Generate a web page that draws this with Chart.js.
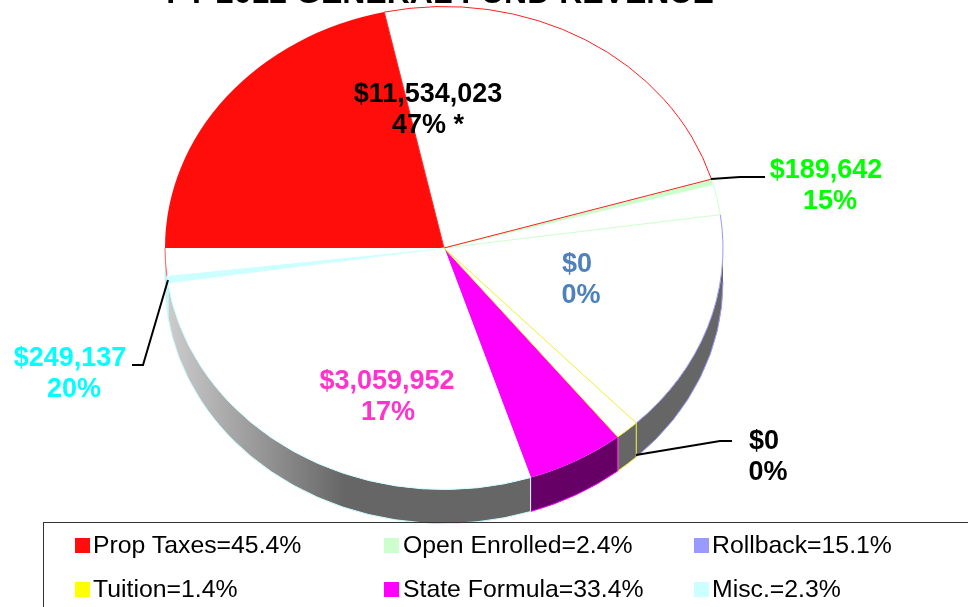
<!DOCTYPE html>
<html>
<head>
<meta charset="utf-8">
<title>FY 2012 General Fund Revenue</title>
<script src="https://cdn.jsdelivr.net/npm/chart.js@4/dist/chart.umd.min.js"></script>
<style>
  html, body { margin: 0; background: #fff; overflow: hidden; }
  #wrap { position: relative; width: 968px; height: 607px; overflow: hidden; }
  #legendBox { position: absolute; left: 43px; top: 522px; width: 1000px; height: 120px; border: 1px solid #333; box-sizing: border-box; }
  .item { position: absolute; font: 24.8px "Liberation Sans", Arial, sans-serif; line-height: 30px; color: #000; white-space: nowrap; }
  .swatch { position: absolute; width: 15px; height: 15px; }
</style>
</head>
<body>
<div id="wrap">
  <canvas id="pie" width="968" height="607"></canvas>
  <div id="legendBox"></div>
</div>
<script>
const titleText = 'FY 2012 GENERAL FUND REVENUE';
const categories = ['Prop Taxes', 'Open Enrolled', 'Rollback', 'Tuition', 'State Formula', 'Misc.'];
const shares = [45.4, 2.4, 15.1, 1.4, 33.4, 2.3];
const filledPct = [47.5, 15, 0, 0, 17, 20];
const amountLabels = ['$11,534,023', '$189,642', '$0', '$0', '$3,059,952', '$249,137'];
const pctLabels = ['47% *', '15%', '0%', '0%', '17%', '20%'];

const colors = ['#ff0d0a', '#ccffcc', '#9999ff', '#ffff00', '#ff00ff', '#ccffff'];
const rimColors = ['#ff2020', '#ccffcc', '#9999ff', '#eeee30', '#ccffff', '#ff6060'];
const wallRims = ['#ff2020', '#ccffcc', '#9999ff', '#eeee30', '#ccffff', '#ccffff'];
const wallColors = [null, null, null, null, '#660066', null];
const labelColors = ['#000000', '#00ff00', '#4f81bd', '#000000', '#ff33cc', '#00ffff'];
// label centres, one per slice: amount line, then percent line
const labelPos = [[428, 95, 428, 126], [826, 171, 830, 202], [577, 265, 581, 296], [764, 442, 768, 473], [387, 382, 388, 413], [70, 359, 74, 390]];
const leaders = [[[711, 179], [740, 177], [765, 177]], [[636, 455], [720, 441], [732, 441]], [[168, 280], [143, 365], [132, 365]]];
// these slices get only their outer arc, no radial edges
const rimOnly = [false, false, true, false, false, true];

// each slice becomes a filled part followed by a white part
const segData = [];
const segColors = [];
shares.forEach(function (s, i) {
  segData.push(s * filledPct[i] / 100, s * (100 - filledPct[i]) / 100);
  segColors.push(colors[i], '#ffffff');
});

const RX = 279, RY = 241.5, CY = 248, DEPTH = 34;

function arcsOf(chart) {
  return chart.getDatasetMeta(0).data;
}

function drawWall(ctx, cx, a, b, fill, stroke) {
  // only the front half of the pie has a visible wall (canvas angles 0..PI)
  const from = Math.max(a, 0);
  const to = Math.min(b, Math.PI);
  if (to <= from) return;
  ctx.beginPath();
  ctx.ellipse(cx, CY, RX, RY, 0, from, to);
  ctx.ellipse(cx, CY + DEPTH, RX, RY, 0, to, from, true);
  ctx.closePath();
  ctx.fillStyle = fill;
  ctx.fill();
  ctx.beginPath();
  ctx.ellipse(cx, CY + DEPTH, RX, RY, 0, from, to);
  if (to < Math.PI) {
    ctx.lineTo(cx + RX * Math.cos(to), CY + RY * Math.sin(to));
  }
  ctx.strokeStyle = stroke;
  ctx.lineWidth = 1;
  ctx.stroke();
  if (from > 0) {
    ctx.beginPath();
    ctx.moveTo(cx + RX * Math.cos(from), CY + RY * Math.sin(from));
    ctx.lineTo(cx + RX * Math.cos(from), CY + DEPTH + RY * Math.sin(from));
    ctx.stroke();
  }
}

const pie3d = {
  id: 'pie3d',
  beforeDatasetsDraw: function (chart) {
    const ctx = chart.ctx;
    const arcs = arcsOf(chart);
    const cx = arcs[0].x;
    const grad = ctx.createLinearGradient(168, 0, 345, 0);
    grad.addColorStop(0, '#cccccc');
    grad.addColorStop(1, '#666666');
    ctx.save();
    // wrap the angles so everything sits in -PI/2 .. 3PI/2
    arcs.forEach(function (el, n) {
      const i = Math.floor(n / 2);
      const filled = n % 2 === 0;
      let a = el.startAngle, b = el.endAngle;
      const two = Math.PI * 2;
      while (b > Math.PI * 1.5 + 0.001) { a -= two; b -= two; }
      if (b <= a) return;
      if (filled && wallColors[i]) {
        drawWall(ctx, cx, a, b, wallColors[i], colors[i]);
      } else {
        drawWall(ctx, cx, a, b, grad, wallRims[i]);
      }
    });
    ctx.restore();
    // squash the round pie into the tilted ellipse
    ctx.save();
    ctx.translate(cx, CY);
    ctx.scale(1, RY / RX);
    ctx.translate(-cx, -arcs[0].y);
  },
  afterDatasetsDraw: function (chart) {
    const ctx = chart.ctx;
    ctx.restore();
    const arcs = arcsOf(chart);
    const cx = arcs[0].x;
    ctx.save();
    ctx.lineWidth = 1;
    // outlines of the white parts, yellow and red end up on top
    [2, 1, 0, 5, 4, 3].forEach(function (i) {
      const el = arcs[i * 2 + 1];
      ctx.beginPath();
      if (rimOnly[i]) {
        ctx.ellipse(cx, CY, RX, RY, 0, el.startAngle, el.endAngle);
      } else {
        ctx.moveTo(cx, CY);
        ctx.ellipse(cx, CY, RX, RY, 0, el.startAngle, el.endAngle);
        ctx.closePath();
      }
      ctx.strokeStyle = rimColors[i];
      ctx.stroke();
    });
    ctx.restore();

    ctx.save();
    ctx.strokeStyle = '#000';
    ctx.lineWidth = 2;
    leaders.forEach(function (pts) {
      ctx.beginPath();
      pts.forEach(function (p, k) {
        if (k === 0) ctx.moveTo(p[0], p[1]);
        else ctx.lineTo(p[0], p[1]);
      });
      ctx.stroke();
    });
    ctx.textAlign = 'center';
    ctx.textBaseline = 'middle';
    ctx.font = 'bold 27px "Liberation Sans", Arial, sans-serif';
    amountLabels.forEach(function (txt, i) {
      const p = labelPos[i];
      ctx.fillStyle = labelColors[i];
      ctx.fillText(txt, p[0], p[1]);
      ctx.fillText(pctLabels[i], p[2], p[3]);
    });
    ctx.font = 'bold 32px "Liberation Sans", Arial, sans-serif';
    ctx.textBaseline = 'alphabetic';
    ctx.fillStyle = '#000';
    ctx.fillText(titleText, 440, 3);
    ctx.restore();
  }
};

new Chart(document.getElementById('pie'), {
  type: 'pie',
  data: {
    labels: segData.map(function (v, n) { return categories[Math.floor(n / 2)]; }),
    datasets: [{ data: segData, backgroundColor: segColors, borderWidth: 0 }]
  },
  options: {
    responsive: false,
    animation: false,
    rotation: 270,
    layout: { padding: { left: 165, right: 245, top: 0, bottom: 49 } },
    plugins: { legend: { display: false }, tooltip: { enabled: false } }
  },
  plugins: [pie3d]
});

// legend, three columns by two rows
const legendX = [75, 384, 694];
const legendY = [545, 589];
const wrap = document.getElementById('wrap');
categories.forEach(function (name, i) {
  const x = legendX[i % 3];
  const y = legendY[Math.floor(i / 3)];
  const sw = document.createElement('div');
  sw.className = 'swatch';
  sw.style.left = x + 'px';
  sw.style.top = (y - 7) + 'px';
  sw.style.background = colors[i];
  wrap.appendChild(sw);
  const t = document.createElement('div');
  t.className = 'item';
  t.style.left = (x + 18 + (i % 3 === 1 ? 1 : 0)) + 'px';
  t.style.top = (y - 15) + 'px';
  t.textContent = name + '=' + shares[i].toFixed(1) + '%';
  wrap.appendChild(t);
});
</script>
</body>
</html>
